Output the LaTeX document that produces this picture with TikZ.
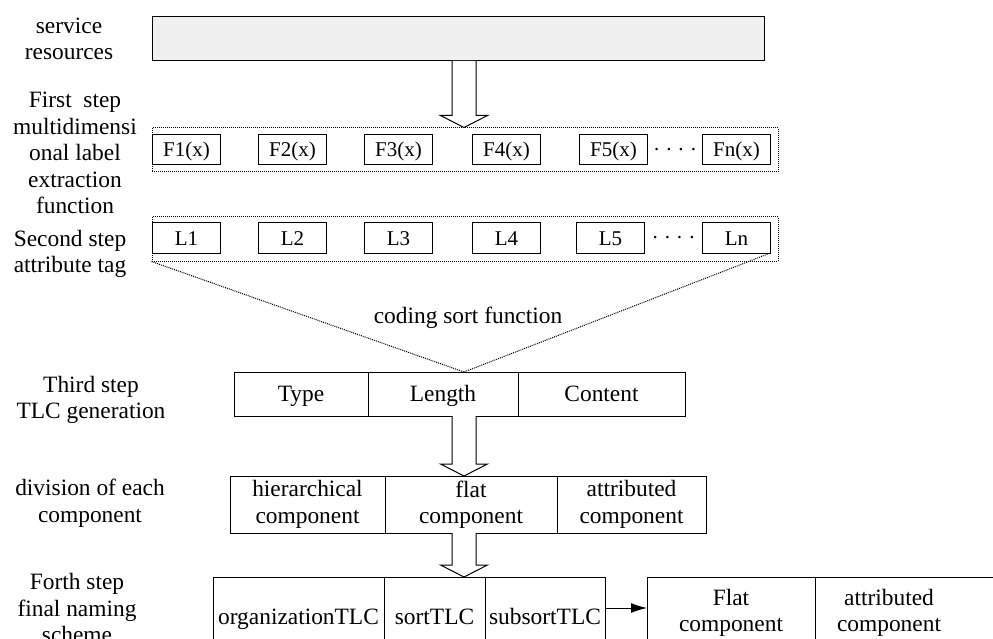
\documentclass[tikz,border=0pt]{standalone}
\usepackage{fontspec}
\setmainfont{Liberation Serif}
\usetikzlibrary{positioning,calc,arrows.meta}
\tikzset{basic/.style={draw,line width=1pt,inner sep=0pt,outer sep=0pt,align=center}}
\tikzset{steplabel/.style={align=center,font=\fontsize{23.4}{26.5}\selectfont}}
\tikzset{oneline/.style={text height=17pt,text depth=1.5pt}}
\tikzset{func/.style={basic,text height=16pt,text depth=2pt,minimum width=68pt,minimum height=30pt,font=\fontsize{21}{24}\selectfont}}
\tikzset{cell/.style={basic,font=\fontsize{23.4}{26.5}\selectfont}}
\tikzset{dotsep/.style={font=\fontsize{21}{24}\selectfont,inner sep=0pt}}
\tikzset{group/.style={draw,densely dotted,line width=1pt,inner sep=0pt,minimum width=626pt,minimum height=44pt}}
\tikzset{funnel/.style={densely dotted,line width=1pt}}
\tikzset{fat/.style={draw,line width=1pt,fill=white}}
\newcommand{\fatarrow}[2]{%
  \draw[fat] let \p1=(#1.south -| axis), \p2=(#2.north -| axis) in
    (\x1-12pt,\y1) -- (\x1-12pt,\y2+12pt) -- (\x1-23.5pt,\y2+12pt) -- (\x2,\y2)
    -- (\x1+23.5pt,\y2+12pt) -- (\x1+12pt,\y2+12pt) -- (\x1+12pt,\y1);}

\begin{document}
\begin{tikzpicture}[x=1pt,y=-1pt,>={Latex[length=16pt,width=10pt]}]
    \useasboundingbox (0,0) rectangle (993,639);
    \coordinate (axis) at (464,0);
    % service resources
    \node[basic,fill=black!6,minimum width=612pt,minimum height=44pt] (svc) at (458,39) {};
    \node[steplabel] (svclab) at (69,39) {service\\resources};
    % first step
    \node[group] (frow) at (465,150) {};
    \node[func] (f1) at (186.5,150) {F1(x)};
    \node[func,right=38pt of f1] (f2) {F2(x)};
    \node[func,right=38pt of f2] (f3) {F3(x)};
    \node[func,right=40pt of f3] (f4) {F4(x)};
    \node[func,right=39pt of f4] (f5) {F5(x)};
    \node[func,right=55pt of f5] (fn) {Fn(x)};
    \node[dotsep] (fdots) at ($(f5.east)!0.5!(fn.west)$) {. . . .};
    \node[steplabel] (step1) at (75,153) {First\ \ step\\multidimensi\\onal label\\extraction\\function};
        \fatarrow{svc}{frow}
    % second step
    \node[group] (lrow) at (465,239) {};
    \node[func] (l1) at (186.5,238) {L1};
    \node[func,right=38pt of l1] (l2) {L2};
    \node[func,right=38pt of l2] (l3) {L3};
    \node[func,right=40pt of l3] (l4) {L4};
    \node[func,right=36pt of l4] (l5) {L5};
    \node[func,right=58pt of l5] (ln) {Ln};
    \node[dotsep] (ldots) at ($(l5.east)!0.5!(ln.west)$) {. . . .};
    \node[steplabel] (step2) at (70,254) {Second step\\attribute tag};
    % third step
    \node[cell,oneline,minimum width=134pt,minimum height=44pt] (type) at (301,394) {Type};
    \node[cell,oneline,minimum width=150pt,minimum height=44pt,right=0pt of type] (len) {Length};
    \node[cell,oneline,minimum width=167pt,minimum height=44pt,right=0pt of len] (cont) {Content};
    \coordinate (apex) at (len.north -| axis);
        \draw[funnel] (lrow.south west) -- (apex) -- (ln.south east);
    \node[steplabel] (cosort) at (468,318) {coding sort function};
    \node[steplabel] (step3) at (91,400) {Third step\\TLC generation};
    % division
    \node[cell,minimum width=155pt,minimum height=57pt] (hier) at (307.5,504.5) {hierarchical\\component};
    \node[cell,minimum width=172pt,minimum height=57pt,right=0pt of hier] (flatc) {flat\\component};
    \node[cell,minimum width=149pt,minimum height=57pt,right=0pt of flatc] (attrc) {attributed\\component};
    \node[steplabel] (divlab) at (90,503) {division of each\\component};
        \fatarrow{len}{flatc}
    % forth step
    \node[cell,oneline,minimum width=171pt,minimum height=80pt] (org) at (298.5,617) {organizationTLC};
    \node[cell,oneline,minimum width=101pt,minimum height=80pt,right=0pt of org] (sort) {sortTLC};
    \node[cell,oneline,minimum width=120pt,minimum height=80pt,right=0pt of sort] (sub) {subsortTLC};
    \node[steplabel] (step4) at (77,608) {Forth step\\final naming\\scheme};
        \fatarrow{flatc}{sort}
    \node[cell,minimum width=168pt,minimum height=72pt] (flat) at (731,613) {Flat\\component};
    \node[cell,draw=none,minimum width=148pt,minimum height=72pt,right=0pt of flat] (attr) {attributed\\component};
        \draw[line width=1pt] (flat.north east) -- ++(200,0);
        \draw[line width=1pt] (flat.south east) -- ++(200,0);
        \path[draw,->,line width=1pt] ([yshift=9pt]sub.east) -- ([yshift=9pt]sub.east -| flat.west);
\end{tikzpicture}
\end{document}
